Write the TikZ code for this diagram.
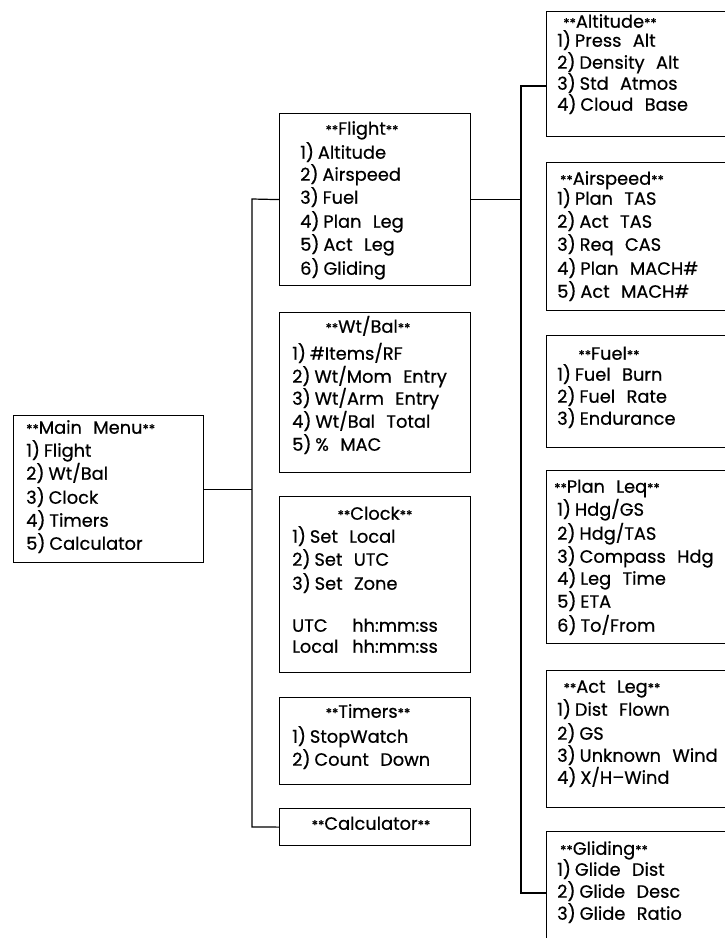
\documentclass[tikz,border=0pt]{standalone}
\usepackage{fontspec}
\setmainfont[WordSpace=2.4,FakeBold=0.6]{Poppins}
\newcommand\nm[1]{#1)\hspace{0.22em}}
\newcommand\st[1]{{\fontsize{13}{13}\selectfont**}#1{\fontsize{13}{13}\selectfont**}}
\begin{document}
\begin{tikzpicture}[x=1pt,y=-1pt,
  box/.style={draw, line width=1.2pt, inner sep=0pt, anchor=north west, minimum width=191pt},
  rbox/.style={draw, line width=1.2pt, inner sep=0pt, anchor=north west, minimum width=214pt},
  txt/.style={anchor=mid west, inner sep=0pt, font=\fontsize{17.8}{20}\selectfont},
  ttl/.style={anchor=mid, inner sep=0pt, font=\fontsize{17.8}{20}\selectfont},
  wire/.style={line width=1.2pt}]
\useasboundingbox (0,0) rectangle (725,938);
\fill[white] (0,0) rectangle (725,938);
\clip (0,0) rectangle (725,938);

% main menu
\node[box, minimum width=190pt, minimum height=147pt] (main) at (13,415) {};
\node[txt] (main-t) at (26,431) {\st{Main Menu}};
\foreach \yy/\lbl [count=\i] in {454/{\nm1Flight},477/{\nm2Wt/Bal},501/{\nm3Clock},524/{\nm4Timers},547/{\nm5Calculator}}
  \node[txt] (main-\i) at (26,\yy) {\lbl};

% middle column
\node[box, minimum height=172pt] (flight) at (279,113) {};
\node[ttl] (flight-t) at (362,132) {\st{Flight}};
\foreach \yy/\lbl [count=\i] in {156/{\nm1Altitude},178/{\nm2Airspeed},201/{\nm3Fuel},225/{\nm4Plan Leg},248/{\nm5Act Leg},272/{\nm6Gliding}}
  \node[txt] (flight-\i) at (300,\yy) {\lbl};

\node[box, minimum height=160pt] (wtbal) at (279,312) {};
\node[ttl] (wtbal-t) at (368,330) {\st{Wt/Bal}};
\foreach \yy/\lbl [count=\i] in {357/{\nm1\#Items/RF},380/{\nm2Wt/Mom Entry},402/{\nm3Wt/Arm Entry},425/{\nm4Wt/Bal Total},448/{\nm5\% MAC}}
  \node[txt] (wtbal-\i) at (292,\yy) {\lbl};

\node[box, minimum height=176pt] (clock) at (279,496) {};
\node[ttl] (clock-t) at (375,517) {\st{Clock}};
\foreach \yy/\lbl [count=\i] in {540/{\nm1Set Local},563/{\nm2Set UTC},587/{\nm3Set Zone}}
  \node[txt] (clock-\i) at (292,\yy) {\lbl};
\node[txt] (clock-utc) at (292,629) {UTC};
\node[txt] (clock-utcv) at (352,629) {hh:mm:ss};
\node[txt] (clock-loc) at (292,650) {Local};
\node[txt] (clock-locv) at (352,650) {hh:mm:ss};

\node[box, minimum height=87pt] (timers) at (279,697) {};
\node[ttl] (timers-t) at (368,715) {\st{Timers}};
\foreach \yy/\lbl [count=\i] in {740/{\nm1StopWatch},763/{\nm2Count Down}}
  \node[txt] (timers-\i) at (292,\yy) {\lbl};

\node[box, minimum height=37pt] (calc) at (279,808) {};
\node[ttl] (calc-t) at (371,827) {\st{Calculator}};

% right column
\node[rbox, minimum height=125pt] (alt) at (546,11) {};
\node[ttl] (alt-t) at (610,25) {\st{Altitude}};
\foreach \yy/\lbl [count=\i] in {44/{\nm1Press Alt},66/{\nm2Density Alt},87/{\nm3Std Atmos},108/{\nm4Cloud Base}}
  \node[txt] (alt-\i) at (557,\yy) {\lbl};

\node[rbox, minimum height=148pt] (aspd) at (546,162) {};
\node[ttl] (aspd-t) at (612,182) {\st{Airspeed}};
\foreach \yy/\lbl [count=\i] in {202/{\nm1Plan TAS},225/{\nm2Act TAS},248/{\nm3Req CAS},272/{\nm4Plan MACH\#},295/{\nm5Act MACH\#}}
  \node[txt] (aspd-\i) at (557,\yy) {\lbl};

\node[rbox, minimum height=112pt] (fuel) at (546,335) {};
\node[ttl] (fuel-t) at (609,357) {\st{Fuel}};
\foreach \yy/\lbl [count=\i] in {378/{\nm1Fuel Burn},400/{\nm2Fuel Rate},422/{\nm3Endurance}}
  \node[txt] (fuel-\i) at (557,\yy) {\lbl};

\node[rbox, minimum height=173pt] (plan) at (546,470) {};
\node[ttl] (plan-t) at (607,490) {\st{Plan Leq}};
\foreach \yy/\lbl [count=\i] in {513/{\nm1Hdg/GS},537/{\nm2Hdg/TAS},560/{\nm3Compass Hdg},582/{\nm4Leg Time},605/{\nm5ETA},629/{\nm6To/From}}
  \node[txt] (plan-\i) at (557,\yy) {\lbl};

\node[rbox, minimum height=137pt] (act) at (546,670) {};
\node[ttl] (act-t) at (612,690) {\st{Act Leg}};
\foreach \yy/\lbl [count=\i] in {713/{\nm1Dist Flown},737/{\nm2GS},759/{\nm3Unknown Wind},781/{\nm4X/H--Wind}}
  \node[txt] (act-\i) at (557,\yy) {\lbl};

\node[rbox, minimum height=124pt] (glide) at (546,831) {};
\node[ttl] (glide-t) at (604,852) {\st{Gliding}};
\foreach \yy/\lbl [count=\i] in {873/{\nm1Glide Dist},895/{\nm2Glide Desc},917/{\nm3Glide Ratio}}
  \node[txt] (glide-\i) at (557,\yy) {\lbl};

% connectors
\coordinate (busLtop) at (252,199);
\coordinate (busLbot) at (252,827);
\coordinate (busRtop) at (521,86);
\coordinate (busRbot) at (521,893);
\draw[wire] (main.east) -- (main.east -| busLtop);
\draw[wire] (flight.west) -- (busLtop) -- (busLbot) -- (calc.west);
\draw[wire] (flight.east) -- (flight.east -| busRtop);
\draw[wire] (busRtop -| alt.west) -- (busRtop) -- (busRbot) -- (busRbot -| glide.west);
\end{tikzpicture}
\end{document}
